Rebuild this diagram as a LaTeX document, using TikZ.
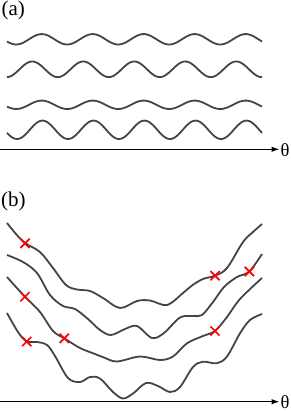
\documentclass[tikz,border=0pt]{standalone}
\usepackage{fontspec}
\setmainfont{Liberation Serif}
\usetikzlibrary{arrows.meta,shapes.misc}
\definecolor{curvegray}{HTML}{444444}
\tikzset{
  wave/.style={draw=curvegray, line width=1.8pt, line join=round},
  axisline/.style={draw=black, line width=1.2pt, -{Latex[length=8pt,width=5.5pt]}},
  xmark/.style={cross out, draw=red, line width=1.7pt, minimum size=7.5pt, inner sep=0pt},
  lbl/.style={font=\rmfamily\fontsize{21}{25}\selectfont, inner sep=0pt},
  thlbl/.style={font=\rmfamily\fontsize{18.5}{22}\selectfont, inner sep=0pt, anchor=west},
}
\begin{document}
\begin{tikzpicture}[x=1pt,y=-1pt]
\useasboundingbox (0,0) rectangle (291,412);
% labels
\node[lbl] (la) at (13.3,10) {(a)};
\node[lbl] (lb) at (13.3,201) {(b)};
% panel (a) waves
\draw[wave] plot[domain=7:262,samples=220] (\x,{39.3-5.2*sin((\x-28.95)/51*360)});
\draw[wave] plot[domain=7:262,samples=220] (\x,{69.3-7.8*sin((\x-19.5)/51*360)});
\draw[wave] plot[domain=7:262,samples=220] (\x,{104.8-4.2*sin((\x-28.95)/51*360)});
\draw[wave] plot[domain=7:262,samples=220] (\x,{129.8-9.2*sin((\x-29.75)/51*360)});
% axis (a)
\coordinate (a0) at (0,149.3);
\coordinate (a1) at (279.5,149.3);
\node[thlbl] (tha) at (280.5,149.8) {θ};
\draw[axisline] (a0) -- (a1);
% panel (b) curves
\draw[wave] plot[smooth,tension=0.55] coordinates {
 (7,223) (16,234) (25,243) (40,252) (53,268) (66,285) (77,289.5) (90,291)
 (103,298) (120,308) (137,301) (150,300.5) (167,305) (183,293) (192,285.5)
 (203,279) (215,275.7) (227,268) (243,242) (253,232) (262,224)};
\draw[wave] plot[smooth,tension=0.55] coordinates {
 (7,255) (23,262) (37,273) (50,295) (63,306) (75,309) (88,319) (100,330)
 (111,335) (125,329) (137,326) (152,338) (164,333) (180,317.5) (193,316)
 (202,315) (213,302) (224,287) (237,277) (249.3,271.5) (262,254)};
\draw[wave] plot[smooth,tension=0.55] coordinates {
 (7,277) (16,287) (25,296.7) (40,312) (53,331) (64.3,338.3) (80,348) (95,354)
 (104,357.5) (117,361.5) (140,356.5) (160,360) (173,356.5) (187,343.3)
 (203,336) (215,331) (227,317) (240,299) (262,278)};
\draw[wave] plot[smooth,tension=0.55] coordinates {
 (7,313) (18,332) (26.7,341.5) (37,342) (47,345) (55,356) (68,378) (80,382)
 (90,377) (100,378.5) (113,392) (123,398.5) (133,393.5) (146,383) (158,386)
 (170,392) (180,387) (193,367) (203,361.7) (216.7,363.3) (227,356.5)
 (240,333.3) (250,320) (262,314)};
% markers
\node[xmark] (x1) at (25,243.3) {};
\node[xmark] (x2) at (215,275.7) {};
\node[xmark] (x3) at (249.3,271.5) {};
\node[xmark] (x4) at (25,296.7) {};
\node[xmark] (x5) at (64.3,338.3) {};
\node[xmark] (x6) at (215,331) {};
\node[xmark] (x7) at (26.7,341.5) {};
% axis (b)
\coordinate (b0) at (0,401.7);
\coordinate (b1) at (279.5,401.7);
\node[thlbl] (thb) at (280.5,402.2) {θ};
\draw[axisline] (b0) -- (b1);
\end{tikzpicture}
\end{document}
